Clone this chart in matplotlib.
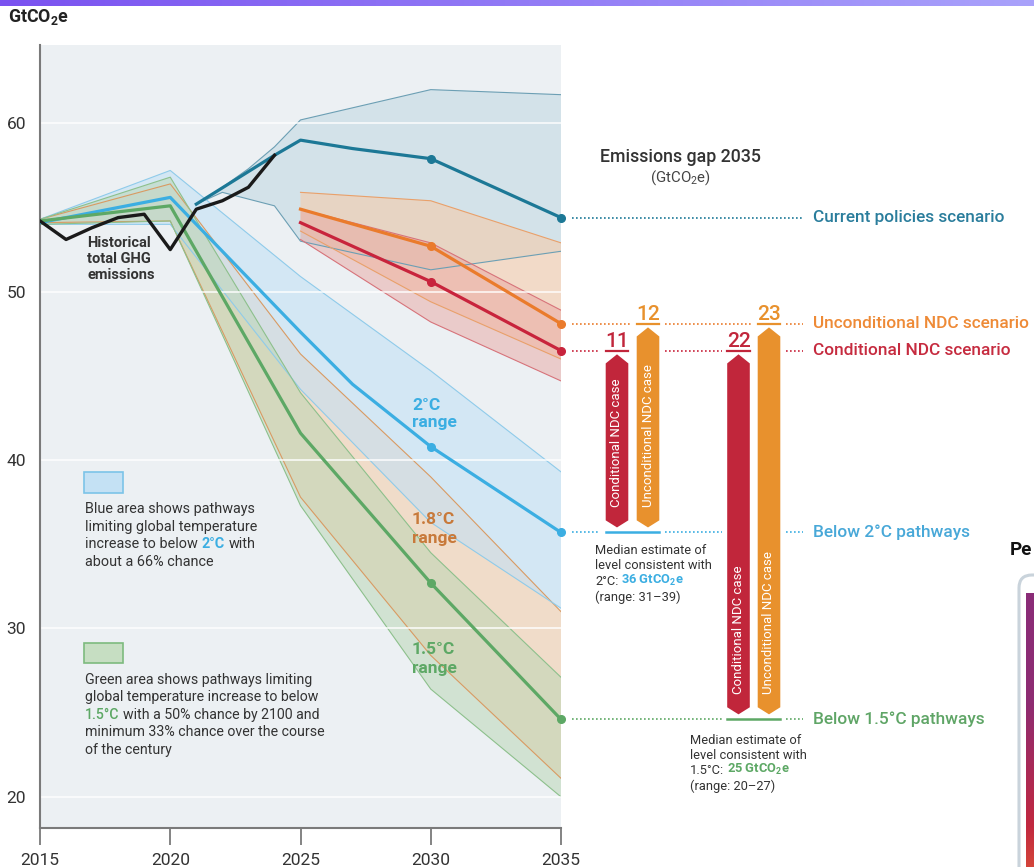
import matplotlib
matplotlib.use('Agg')
import matplotlib.pyplot as plt
import numpy as np
from matplotlib.patches import Polygon, Rectangle, FancyBboxPatch
from matplotlib.colors import LinearSegmentedColormap
from matplotlib.transforms import IdentityTransform, Bbox

plt.rcParams['font.family'] = ['Roboto', 'DejaVu Sans']
plt.rcParams['mathtext.fontset'] = 'custom'
plt.rcParams['mathtext.rm'] = 'Roboto'
plt.rcParams['mathtext.bf'] = 'Roboto:bold'

W, H = 1034, 867

# ---- data, GtCO2e ----
hist_years = [2015, 2016, 2017, 2018, 2019, 2020, 2021, 2022, 2023, 2024]
hist = [54.2, 53.1, 53.8, 54.4, 54.6, 52.5, 54.9, 55.4, 56.2, 58.1]

cp_years = [2021, 2024, 2025, 2027, 2030, 2035]
cp = [55.2, 58.1, 59.0, 58.5, 57.9, 54.4]
cp_band_years = [2021, 2022, 2023, 2024, 2025, 2030, 2035]
cp_lo = [55.2, 55.9, 55.5, 55.1, 53.0, 51.3, 52.4]
cp_hi = [55.2, 56.2, 57.3, 58.6, 60.2, 62.0, 61.7]

ndc_years = [2025, 2030, 2035]
uncond = [54.9, 52.7, 48.1]
uncond_lo = [53.6, 49.4, 46.0]
uncond_hi = [55.9, 55.4, 52.9]
cond = [54.1, 50.6, 46.5]
cond_lo = [53.1, 48.2, 44.7]
cond_hi = [54.9, 52.9, 48.9]

path_years = [2015, 2020, 2025, 2030, 2035]
deg2_years = [2015, 2020, 2025, 2027, 2030, 2035]
deg2 = [54.1, 55.6, 47.6, 44.5, 40.8, 35.7]
deg2_lo = [54.0, 54.0, 44.2, 36.3, 31.2]
deg2_hi = [54.3, 57.2, 50.9, 45.3, 39.3]
deg18_lo = [54.1, 54.2, 37.8, 28.4, 21.1]
deg18_hi = [54.3, 56.4, 46.3, 39.0, 31.0]
deg15 = [54.2, 55.1, 41.6, 32.7, 24.6]
deg15_lo = [54.0, 54.2, 37.3, 26.4, 20.0]
deg15_hi = [54.3, 56.8, 44.0, 34.5, 27.1]

gap_labels = ['11', '12', '22', '23']
gap_cases = ['Conditional NDC case', 'Unconditional NDC case',
             'Conditional NDC case', 'Unconditional NDC case']

# colours
TEAL = '#1C7896'
ORANGE = '#EA7B2C'
RED = '#C8243C'
BLUE = '#3BAEE2'
GREEN = '#5DA865'
BAR_RED = '#C1263B'
BAR_ORANGE = '#E8912D'
TXT = '#333333'
UNIT = r'GtCO$_\mathbf{2}$e'
UNIT_RM = r'GtCO$_\mathrm{2}$e'

fig = plt.figure(figsize=(W / 100, H / 100), dpi=100)
fig.patch.set_facecolor('white')


def fx(x):
    return x / W


def fy(y):
    return 1 - y / H


ax = fig.add_axes([fx(40), fy(828), 521 / W, (828 - 45) / H])
ax.set_facecolor('#ECF0F3')
ax.set_xlim(2015, 2035)
ax.set_ylim(18.15, 64.65)


def band(x, lo, hi, face, edge, alpha):
    ax.fill_between(x, lo, hi, facecolor=face, alpha=alpha, lw=0, zorder=1)
    ax.plot(x, lo, color=edge, lw=0.8, zorder=1.5)
    ax.plot(x, hi, color=edge, lw=0.8, zorder=1.5)


band(cp_band_years, cp_lo, cp_hi, '#A9CBD8', '#6C9FB4', 0.36)
band(path_years, deg18_lo, deg18_hi, '#F5C9A1', '#D99A62', 0.5)
band(path_years, deg2_lo, deg2_hi, '#C3E1F5', '#8FCBEA', 0.6)
band(path_years, deg15_lo, deg15_hi, '#B8D6B3', '#8DC08C', 0.5)
band(ndc_years, uncond_lo, uncond_hi, '#F8C9A5', '#E9A06A', 0.55)
band(ndc_years, cond_lo, cond_hi, '#E8A09A', '#D7737A', 0.45)

for v in [20, 30, 40, 50, 60]:
    ax.axhline(v, color='white', lw=1.3, alpha=0.8, zorder=2.5)

ax.plot(deg2_years, deg2, color=BLUE, lw=2.3, zorder=4)
ax.plot(path_years, deg15, color=GREEN, lw=2.3, zorder=4)
ax.plot(ndc_years, uncond, color=ORANGE, lw=2.3, zorder=4)
ax.plot(ndc_years, cond, color=RED, lw=2.3, zorder=4)
ax.plot(cp_years, cp, color=TEAL, lw=2.3, zorder=4)
ax.plot(hist_years, hist, color='#1A1A1A', lw=2.4, zorder=5)

# dots at 2030 and 2035
for xs, ys, c in [(cp_years, cp, TEAL), (ndc_years, uncond, ORANGE), (ndc_years, cond, RED),
                  (deg2_years, deg2, BLUE), (path_years, deg15, GREEN)]:
    ax.plot(xs[-2:], ys[-2:], 'o', color=c, ms=5.5, zorder=6, clip_on=False)

ax.set_xticks([2015, 2020, 2025, 2030, 2035])
ax.set_yticks([20, 30, 40, 50, 60])
ax.tick_params(axis='x', length=12, width=1.3, color='#7A7A7A', pad=6,
               labelsize=12.5, labelcolor=TXT)
ax.tick_params(axis='y', length=0, pad=10, labelsize=12.5, labelcolor=TXT)
for s in ['top', 'right']:
    ax.spines[s].set_visible(False)
for s in ['left', 'bottom']:
    ax.spines[s].set_color('#7A7A7A')
    ax.spines[s].set_linewidth(1.5)

# ---- right panel: emissions gap 2035 (x in pixels right of 2035) ----
ax2 = fig.add_axes([fx(561), fy(828), (W - 561) / W, (828 - 45) / H], sharey=ax)
ax2.set_xlim(0, W - 561)
ax2.axis('off')

bar_x = [56, 87, 177.5, 208]
hw = 11.3
tops = [cond[-1], uncond[-1], cond[-1], uncond[-1]]
bots = [deg2[-1], deg2[-1], deg15[-1], deg15[-1]]
bar_cols = [BAR_RED, BAR_ORANGE, BAR_RED, BAR_ORANGE]

levels = [(cp[-1], TEAL, '#2A7D9C', 'Current policies scenario'),
          (uncond[-1], ORANGE, '#EE8A36', 'Unconditional NDC scenario'),
          (cond[-1], RED, '#C62B3F', 'Conditional NDC scenario'),
          (deg2[-1], BLUE, '#48A8D8', 'Below 2°C pathways'),
          (deg15[-1], GREEN, '#5FA566', 'Below 1.5°C pathways')]

for lv, c, tc, name in levels:
    cuts = sorted((cx - 17, cx + 17) for cx, t, b in zip(bar_x, tops, bots)
                  if b - 0.05 <= lv <= t + 0.05)
    start = 11
    segs = []
    for a, b in cuts:
        if a > start:
            segs.append((start, a))
        start = max(start, b)
    segs.append((start, 242))
    for a, b in segs:
        ax2.plot([a, b], [lv, lv], color=c, lw=1.2, linestyle=(0, (1, 1.4)), zorder=2)
    t = ax2.text(252, lv, name, color=tc, fontsize=12.4, fontweight='medium',
                 ha='left', va='center', zorder=5)
    if lv == deg15[-1]:
        # the neighbouring panel cuts this label off
        t.set_clip_box(Bbox([[0, 0], [986, H]]))
        t.set_clip_on(True)

for cx, top, bot, col, lab, case in zip(bar_x, tops, bots, bar_cols, gap_labels, gap_cases):
    apex_t = top - 0.22
    sh_t = top - 0.76
    apex_b = bot + 0.3
    sh_b = bot + 0.72
    pts = [(cx - hw, sh_t), (cx, apex_t), (cx + hw, sh_t),
           (cx + hw, sh_b), (cx, apex_b), (cx - hw, sh_b)]
    ax2.add_patch(Polygon(pts, closed=True, facecolor=col, edgecolor='none', zorder=3))
    ax2.plot([cx - hw, cx + hw], [top, top], color=col, lw=1.6, zorder=3)
    ax2.text(cx, top + 0.2, lab, color=col, fontsize=15, fontweight='medium',
             ha='center', va='baseline', zorder=4)
    ax2.text(cx, bot + 1.5, case, color='white', fontsize=9.5, rotation=90,
             ha='center', va='bottom', zorder=4)

# solid underline for the pathway medians under each pair of bars
for lv, c in [(deg2[-1], BLUE), (deg15[-1], GREEN)]:
    xs = [cx for cx, b in zip(bar_x, bots) if b == lv]
    ax2.plot([min(xs) - hw, max(xs) + hw], [lv, lv], color=c, lw=1.8, zorder=3)


def rich(x, y, parts, size):
    # parts drawn one after another on the same line; gap in points before each part
    t = None
    for s, c, w, gap in parts:
        if t is None:
            t = fig.text(fx(x), fy(y), s, color=c, fontsize=size, fontweight=w,
                         ha='left', va='center')
        else:
            t = ax.annotate(s, xy=(1, 0), xycoords=t, xytext=(gap, 0),
                            textcoords='offset points', color=c, fontsize=size,
                            fontweight=w, ha='left', va='bottom', annotation_clip=False)


fig.text(fx(8), fy(17), UNIT, color='#222222', fontsize=12.8, fontweight='bold',
         ha='left', va='center')

fig.text(fx(680), fy(157), 'Emissions gap 2035', color=TXT, fontsize=12.8,
         fontweight='medium', ha='center', va='center')
fig.text(fx(680), fy(178), '(' + UNIT_RM + ')', color='#444444', fontsize=10.8,
         ha='center', va='center')

med2 = [[('Median estimate of', TXT, 'normal', 0)],
        [('level consistent with', TXT, 'normal', 0)],
        [('2°C:', TXT, 'normal', 0), ('%d ' % round(deg2[-1]) + UNIT, BLUE, 'bold', 2.2)],
        [('(range: %d–%d)' % (round(deg2_lo[-1]), round(deg2_hi[-1])), TXT, 'normal', 0)]]
for i, parts in enumerate(med2):
    rich(595, 550 + i * 15.6, parts, 9.3)

med15 = [[('Median estimate of', TXT, 'normal', 0)],
         [('level consistent with', TXT, 'normal', 0)],
         [('1.5°C:', TXT, 'normal', 0), ('%d ' % round(deg15[-1]) + UNIT, GREEN, 'bold', 2.2)],
         [('(range: %d–%d)' % (round(deg15_lo[-1]), round(deg15_hi[-1])), TXT, 'normal', 0)]]
for i, parts in enumerate(med15):
    rich(690, 740 + i * 15.4, parts, 9.3)

# ---- in-plot notes ----
for i, s in enumerate(['Historical', 'total GHG', 'emissions']):
    fig.text(fx(87), fy(243 + i * 16.2), s, color=TXT, fontsize=10.5,
             fontweight='bold', ha='left', va='center')

for lab, c, y0 in [('2°C', BLUE, 405), ('1.8°C', '#C8793A', 520), ('1.5°C', GREEN, 650)]:
    fig.text(fx(412), fy(y0), lab, color=c, fontsize=12.5, fontweight='bold', va='center')
    fig.text(fx(412), fy(y0 + 18), 'range', color=c, fontsize=12.5, fontweight='bold', va='center')

fig.add_artist(Rectangle((fx(84), fy(493)), 39 / W, 21 / H, transform=fig.transFigure,
                         facecolor='#C4E1F4', edgecolor='#7CC4E8', lw=1.2))
fig.add_artist(Rectangle((fx(84), fy(663)), 39 / W, 20 / H, transform=fig.transFigure,
                         facecolor='#C6DEC2', edgecolor='#7DBB7E', lw=1.2))

blue_note = [[('Blue area shows pathways', TXT, 'normal', 0)],
             [('limiting global temperature', TXT, 'normal', 0)],
             [('increase to below', TXT, 'normal', 0), ('2°C', BLUE, 'bold', 2.6),
              ('with', TXT, 'normal', 2.6)],
             [('about a 66% chance', TXT, 'normal', 0)]]
for i, parts in enumerate(blue_note):
    rich(85, 509.5 + i * 17.4, parts, 10.4)

green_note = [[('Green area shows pathways limiting', TXT, 'normal', 0)],
              [('global temperature increase to below', TXT, 'normal', 0)],
              [('1.5°C', GREEN, 'medium', 0), ('with a 50% chance by 2100 and', TXT, 'normal', 2.6)],
              [('minimum 33% chance over the course', TXT, 'normal', 0)],
              [('of the century', TXT, 'normal', 0)]]
for i, parts in enumerate(green_note):
    rich(85, 680 + i * 17.5, parts, 10.2)

# ---- page decorations: top gradient strip, neighbouring panel edge ----
top = fig.add_axes([0, fy(6), 1, 6 / H])
top.imshow(np.linspace(0, 1, 256)[None, :], aspect='auto',
           cmap=LinearSegmentedColormap.from_list('top', ['#7A52F0', '#A9A2FB']))
top.axis('off')

fig.add_artist(FancyBboxPatch((1019, -40), 80, H - 575 + 40, transform=IdentityTransform(),
                              boxstyle='round,pad=0,rounding_size=13',
                              facecolor='none', edgecolor='#C9D3DB', lw=2.2, zorder=3))
strip = fig.add_axes([fx(1026), 0, 8 / W, (H - 593) / H])
strip.imshow(np.linspace(0, 1, 256)[:, None], aspect='auto',
             cmap=LinearSegmentedColormap.from_list(
                 'side', [(0, '#8A2D78'), (0.4, '#8E2C72'), (0.85, '#C1283F'), (1, '#D4453A')]))
strip.axis('off')
fig.text(fx(1010), fy(550), 'Pe', color='#111111', fontsize=13.5, fontweight='bold', va='center')

fig.savefig('out.png', dpi=100)
